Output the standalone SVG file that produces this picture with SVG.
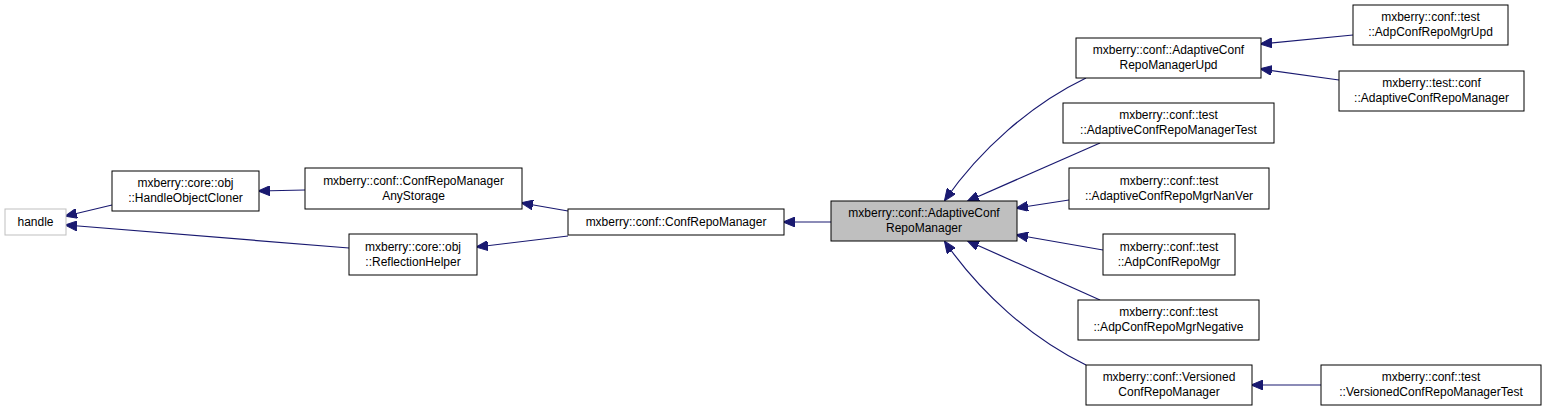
<svg xmlns="http://www.w3.org/2000/svg" width="1547" height="411" viewBox="0 0 1547 411">
<style>
.n{fill:#fff;stroke:#000;stroke-width:1}
.t{font-family:"Liberation Sans",Arial,sans-serif;font-size:12px;text-anchor:middle;fill:#000}
.e{fill:none;stroke:#191970;stroke-width:1.2;marker-end:url(#a)}
</style>
<defs><marker id="a" markerWidth="12" markerHeight="10" refX="11" refY="5" orient="auto" markerUnits="userSpaceOnUse"><path d="M0,0 L12,5 L0,10 z" fill="#191970" stroke="#191970"/></marker></defs>
<rect width="1547" height="411" fill="#fff"/>
<g id="edges">
<path class="e" d="M112,205 L66,216"/>
<path class="e" d="M349,248 L66,225"/>
<path class="e" d="M305,190 L259,191"/>
<path class="e" d="M568,211 L522,203"/>
<path class="e" d="M568,236 L477,247"/>
<path class="e" d="M831,222 L784,222"/>
<path class="e" d="M1086,78 C1030,105 980,150 945,200"/>
<path class="e" d="M1100,143 L968,201"/>
<path class="e" d="M1069,200 L1017,208"/>
<path class="e" d="M1103,250 L1017,235"/>
<path class="e" d="M1100,300 L968,241"/>
<path class="e" d="M1086,365 C1030,338 980,292 945,242"/>
<path class="e" d="M1353,35 L1261,44"/>
<path class="e" d="M1339,80 L1261,69"/>
<path class="e" d="M1321,385 L1252,385"/>
</g>
<g id="handle"><rect x="5" y="209" width="61" height="26" fill="#fff" stroke="#bfbfbf"/><text class="t" x="35.5" y="226">handle</text></g>
<g id="hoc"><rect class="n" x="112" y="171" width="147" height="40"/><text class="t" x="185.5" y="187">mxberry::core::obj</text><text class="t" x="185.5" y="202">::HandleObjectCloner</text></g>
<g id="anystorage"><rect class="n" x="305" y="168" width="217" height="41"/><text class="t" x="413.5" y="185">mxberry::conf::ConfRepoManager</text><text class="t" x="413.5" y="200">AnyStorage</text></g>
<g id="refl"><rect class="n" x="349" y="234" width="128" height="41"/><text class="t" x="413" y="251">mxberry::core::obj</text><text class="t" x="413" y="266">::ReflectionHelper</text></g>
<g id="crm"><rect class="n" x="568" y="209" width="216" height="26"/><text class="t" x="676" y="226">mxberry::conf::ConfRepoManager</text></g>
<g id="acrm"><rect x="831" y="201" width="186" height="40" fill="#bfbfbf" stroke="#000"/><text class="t" x="924" y="217">mxberry::conf::AdaptiveConf</text><text class="t" x="924" y="232">RepoManager</text></g>
<g id="upd"><rect class="n" x="1076" y="38" width="185" height="40"/><text class="t" x="1168.5" y="54">mxberry::conf::AdaptiveConf</text><text class="t" x="1168.5" y="69">RepoManagerUpd</text></g>
<g id="mgrupd"><rect class="n" x="1353" y="5" width="155" height="40"/><text class="t" x="1430.5" y="21">mxberry::conf::test</text><text class="t" x="1430.5" y="36">::AdpConfRepoMgrUpd</text></g>
<g id="tconf"><rect class="n" x="1339" y="71" width="185" height="40"/><text class="t" x="1431.5" y="87">mxberry::test::conf</text><text class="t" x="1431.5" y="102">::AdaptiveConfRepoManager</text></g>
<g id="acrmtest"><rect class="n" x="1063" y="103" width="211" height="40"/><text class="t" x="1168.5" y="119">mxberry::conf::test</text><text class="t" x="1168.5" y="134">::AdaptiveConfRepoManagerTest</text></g>
<g id="nanver"><rect class="n" x="1069" y="168" width="200" height="41"/><text class="t" x="1169" y="185">mxberry::conf::test</text><text class="t" x="1169" y="200">::AdaptiveConfRepoMgrNanVer</text></g>
<g id="adpmgr"><rect class="n" x="1103" y="234" width="132" height="41"/><text class="t" x="1169" y="251">mxberry::conf::test</text><text class="t" x="1169" y="266">::AdpConfRepoMgr</text></g>
<g id="neg"><rect class="n" x="1078" y="300" width="181" height="40"/><text class="t" x="1168.5" y="316">mxberry::conf::test</text><text class="t" x="1168.5" y="331">::AdpConfRepoMgrNegative</text></g>
<g id="vers"><rect class="n" x="1086" y="365" width="166" height="40"/><text class="t" x="1169" y="381">mxberry::conf::Versioned</text><text class="t" x="1169" y="396">ConfRepoManager</text></g>
<g id="verstest"><rect class="n" x="1321" y="365" width="220" height="40"/><text class="t" x="1431" y="381">mxberry::conf::test</text><text class="t" x="1431" y="396">::VersionedConfRepoManagerTest</text></g>
</svg>
